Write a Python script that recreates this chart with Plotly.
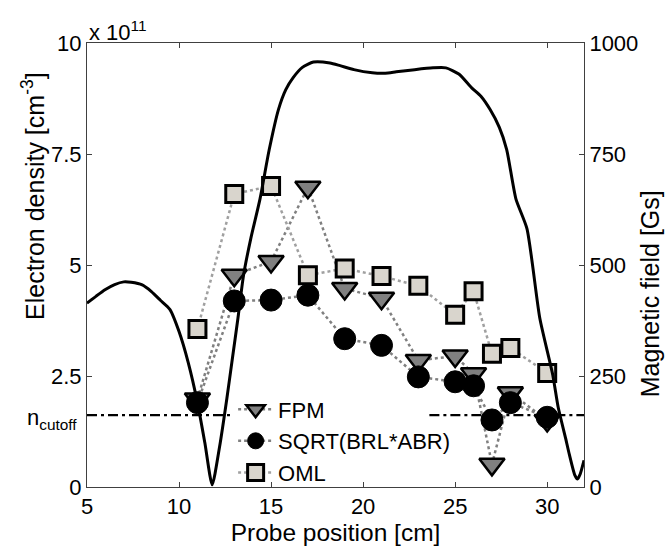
import plotly.graph_objects as go

# Probe positions [cm]
pos = [11, 13, 15, 17, 19, 21, 23, 25, 26, 27, 28, 30]
# Electron density [x 1e11 cm^-3]
fpm = [1.98, 4.77, 5.08, 6.75, 4.47, 4.25, 2.85, 2.95, 2.55, 0.51, 2.12, 1.50]
sqrt_brl_abr = [1.90, 4.19, 4.21, 4.32, 3.34, 3.19, 2.48, 2.37, 2.28, 1.51, 1.90, 1.57]
oml = [3.56, 6.60, 6.78, 4.77, 4.92, 4.75, 4.53, 3.88, 4.41, 3.00, 3.13, 2.57]

# Magnetic field profile [Gs]
b_pos = [5.0, 5.5, 6.0, 6.5, 7.0, 7.4, 8.0, 8.5, 9.0, 9.5, 10.0, 10.5, 11.0, 11.4, 11.8,
         12.2, 12.6, 12.9, 13.2, 13.5, 13.9, 14.4, 14.9, 15.4, 15.8, 16.2, 16.7, 17.3,
         18.2, 18.75, 19.5, 20.5, 21.2, 21.8, 22.8, 23.8, 24.5, 25.2, 25.9, 26.4, 26.9,
         27.4, 27.8, 28.3, 28.9, 29.6, 30.3, 30.6, 31.0, 31.2, 31.5, 31.65, 31.8, 32.0]
b_field = [414, 430, 445, 456, 462, 461, 455, 440, 420, 400, 350, 280, 190, 100, 5,
           90, 200, 290, 380, 476, 560, 649, 760, 850, 895, 922, 945, 957,
           955, 949, 940, 933, 932, 935, 940, 944, 944, 930, 899, 880, 850,
           810, 760, 649, 582, 380, 253, 179, 110, 74, 27, 18, 30, 60]

# Cutoff density line (interrupted where the legend sits)
n_cutoff = 1.62
cutoff_x = [5, 12.9, None, 23.6, 32]
cutoff_y = [n_cutoff, n_cutoff, None, n_cutoff, n_cutoff]
x_range = [5, 32]

font = "Arial, Liberation Sans, sans-serif"
fig = go.Figure()

fig.add_trace(go.Scatter(x=cutoff_x, y=cutoff_y, mode="lines", connectgaps=False,
                         line=dict(color="black", width=2.2, dash="10px,4px,3px,4px"),
                         showlegend=False, hoverinfo="skip"))

fig.add_trace(go.Scatter(x=pos, y=fpm, name="FPM", mode="lines+markers",
                         line=dict(color="#808080", width=2.5, dash="dot"),
                         marker=dict(symbol="triangle-down", size=22, color="#808080",
                                     line=dict(color="black", width=2.5))))
fig.add_trace(go.Scatter(x=pos, y=sqrt_brl_abr, name="SQRT(BRL*ABR)", mode="lines+markers",
                         line=dict(color="#808080", width=2.5, dash="dot"),
                         marker=dict(symbol="circle", size=22, color="black",
                                     line=dict(color="black", width=1))))
fig.add_trace(go.Scatter(x=pos, y=oml, name="OML", mode="lines+markers",
                         line=dict(color="#a0a0a0", width=2.5, dash="dot"),
                         marker=dict(symbol="square", size=17, color="#d9d5cd",
                                     line=dict(color="black", width=3))))

fig.add_trace(go.Scatter(x=b_pos, y=b_field, yaxis="y2", mode="lines",
                         line=dict(color="black", width=3, shape="spline", smoothing=0.6),
                         showlegend=False, hoverinfo="skip"))

axis_common = dict(showline=True, linecolor="#404040", linewidth=1, ticks="inside",
                   ticklen=5, tickcolor="#404040", showgrid=False, zeroline=False,
                   tickfont=dict(family=font, size=22, color="black"))

fig.update_layout(
    width=665, height=549,
    margin=dict(l=87, r=81, t=43, b=59),
    paper_bgcolor="white", plot_bgcolor="white",
    font=dict(family=font, size=22, color="black"),
    xaxis=dict(range=x_range, tickvals=[5, 10, 15, 20, 25, 30], mirror="ticks",
               title=dict(text="Probe position [cm]", standoff=0,
                          font=dict(family=font, size=24.5)),
               **axis_common),
    yaxis=dict(range=[0, 10], tickvals=[0, 2.5, 5, 7.5, 10],
               ticktext=["0", "2.5", "5", "7.5", "10"],
               **axis_common),
    yaxis2=dict(range=[0, 1000], tickvals=[0, 250, 500, 750, 1000], overlaying="y",
                side="right",
                **axis_common),
    legend=dict(x=0.294, y=0.222, xanchor="left", yanchor="top",
                bgcolor="rgba(0,0,0,0)", borderwidth=0, itemwidth=35,
                font=dict(family=font, size=22), tracegroupgap=0),
    showlegend=True,
)

fig.add_annotation(text="Electron density [cm<sup>-3</sup>]", xref="paper", yref="paper",
                   x=0, y=0.6555, xanchor="center", yanchor="middle", xshift=-54,
                   textangle=-90, showarrow=False, font=dict(family=font, size=25))
fig.add_annotation(text="Magnetic field [Gs]", xref="paper", yref="paper",
                   x=1, y=0.434, xanchor="center", yanchor="middle", xshift=66,
                   textangle=-90, showarrow=False, font=dict(family=font, size=25))
fig.add_annotation(text="x 10<sup>11</sup>", xref="paper", yref="paper", x=0, y=1.0,
                   xanchor="left", yanchor="bottom", showarrow=False,
                   font=dict(family=font, size=22), yshift=-4)
fig.add_annotation(text="n<sub>cutoff</sub>", xref="paper", yref="y", x=0, y=n_cutoff,
                   xanchor="right", yanchor="middle", showarrow=False,
                   font=dict(family=font, size=22), xshift=-8, yshift=-4)

fig.write_html("out.html")
